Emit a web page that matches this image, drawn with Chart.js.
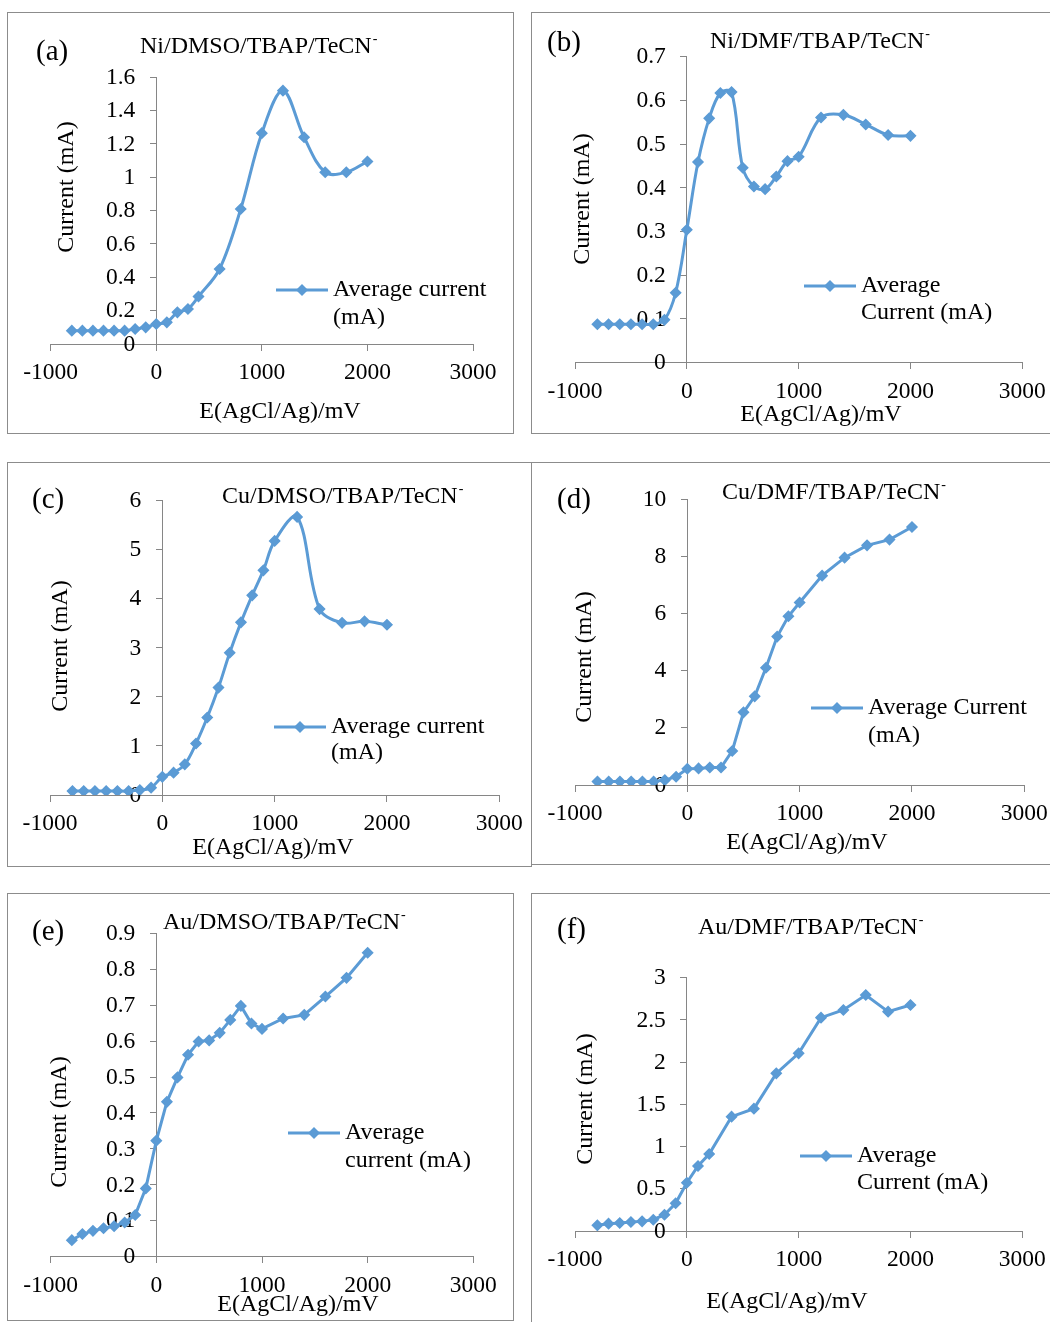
<!DOCTYPE html>
<html>
<head>
<meta charset="utf-8">
<title>Average current vs potential</title>
<script src="https://cdn.jsdelivr.net/npm/chart.js@4.4.1/dist/chart.umd.min.js"></script>
<style>
  html, body { margin: 0; padding: 0; background: #fff; overflow: hidden; }
  body { width: 1050px; height: 1322px; position: relative; }
  canvas { position: absolute; }
  .frame { position: absolute; border: 1px solid #8c8c8c; box-sizing: border-box; pointer-events: none; }
</style>
</head>
<body>
<script>
// Potential steps (mV vs AgCl/Ag)
const potentialsA = [-800, -700, -600, -500, -400, -300, -200, -100, 0, 100, 200, 300, 400, 600, 800, 1000, 1200, 1400, 1600, 1800, 2000];
const potentialsBE = [-800, -700, -600, -500, -400, -300, -200, -100, 0, 100, 200, 300, 400, 500, 600, 700, 800, 900, 1000, 1200, 1400, 1600, 1800, 2000];
const potentialsF = [-800, -700, -600, -500, -400, -300, -200, -100, 0, 100, 200, 400, 600, 800, 1000, 1200, 1400, 1600, 1800, 2000];

// Average current (mA)
const currentNiDmso = [0.08, 0.08, 0.08, 0.08, 0.08, 0.08, 0.09, 0.10, 0.12, 0.13, 0.19, 0.21, 0.285, 0.45, 0.81, 1.265, 1.52, 1.24, 1.03, 1.03, 1.095];
const currentNiDmf = [0.088, 0.088, 0.088, 0.088, 0.088, 0.088, 0.098, 0.16, 0.304, 0.459, 0.559, 0.617, 0.619, 0.446, 0.403, 0.397, 0.426, 0.461, 0.471, 0.561, 0.567, 0.545, 0.521, 0.519];
const currentCuDmso = [0.08, 0.08, 0.08, 0.08, 0.08, 0.08, 0.10, 0.15, 0.37, 0.455, 0.625, 1.05, 1.58, 2.19, 2.90, 3.52, 4.07, 4.58, 5.18, 5.67, 3.79, 3.51, 3.54, 3.47];
const currentCuDmf = [0.12, 0.12, 0.12, 0.12, 0.12, 0.12, 0.17, 0.29, 0.57, 0.58, 0.61, 0.61, 1.19, 2.54, 3.10, 4.10, 5.19, 5.90, 6.38, 7.32, 7.95, 8.38, 8.58, 9.02];
const currentAuDmso = [0.046, 0.063, 0.072, 0.079, 0.085, 0.095, 0.116, 0.190, 0.323, 0.431, 0.499, 0.562, 0.599, 0.602, 0.623, 0.659, 0.698, 0.649, 0.634, 0.663, 0.673, 0.724, 0.776, 0.846];
const currentAuDmf = [0.067, 0.087, 0.095, 0.107, 0.114, 0.134, 0.193, 0.328, 0.572, 0.770, 0.912, 1.354, 1.449, 1.867, 2.104, 2.527, 2.618, 2.795, 2.598, 2.677];

// Axis ticks
const xTicks = [-1000, 0, 1000, 2000, 3000];
const yTicksA = [0, 0.2, 0.4, 0.6, 0.8, 1, 1.2, 1.4, 1.6];
const yTicksB = [0, 0.1, 0.2, 0.3, 0.4, 0.5, 0.6, 0.7];
const yTicksC = [0, 1, 2, 3, 4, 5, 6];
const yTicksD = [0, 2, 4, 6, 8, 10];
const yTicksE = [0, 0.1, 0.2, 0.3, 0.4, 0.5, 0.6, 0.7, 0.8, 0.9];
const yTicksF = [0, 0.5, 1, 1.5, 2, 2.5, 3];

// Legend wording, split over two lines
const legendA = ['Average current', '(mA)'];
const legendB = ['Average', 'Current (mA)'];
const legendC = ['Average current', '(mA)'];
const legendD = ['Average Current', '(mA)'];
const legendE = ['Average', 'current (mA)'];
const legendF = ['Average', 'Current (mA)'];

const xTitle = 'E(AgCl/Ag)/mV';
const yTitle = 'Current (mA)';

const BLUE = '#5b9bd5';
const AXIS = '#868686';
const FONT = '"Liberation Serif", "Times New Roman", serif';
const TEXT_SIZE = 24;
const TICK_SIZE = 23.5;

Chart.defaults.font.family = FONT;
Chart.defaults.font.size = TICK_SIZE;
Chart.defaults.color = '#000';

// box: frame [x, y, w, h]; plot: chart area [left, top, right, bottom]
const panels = [
  { letter: '(a)', title: 'Ni/DMSO/TBAP/TeCN', E: potentialsA, I: currentNiDmso, yTicks: yTicksA, legend: legendA, smooth: true,
    box: [7, 12, 507, 422], plot: [50.7, 77.3, 473, 344],
    letterAt: [36, 52], titleAt: [140, 47], xTitleAt: [280, 412], yTitleAt: [67, 187], legendAt: [276, 290, 28] },
  { letter: '(b)', title: 'Ni/DMF/TBAP/TeCN', E: potentialsBE, I: currentNiDmf, yTicks: yTicksB, legend: legendB, smooth: true,
    box: [531, 12, 530, 422], plot: [575, 56.7, 1022.3, 362.7],
    letterAt: [547, 43], titleAt: [710, 42], xTitleAt: [821, 415], yTitleAt: [583, 199], legendAt: [804, 286, 27] },
  { letter: '(c)', title: 'Cu/DMSO/TBAP/TeCN', E: potentialsBE, I: currentCuDmso, yTicks: yTicksC, legend: legendC, smooth: true,
    box: [7, 462, 525, 405], plot: [50, 500.7, 499.3, 795],
    letterAt: [32, 500], titleAt: [222, 497], xTitleAt: [273, 848], yTitleAt: [61, 646], legendAt: [274, 727, 26] },
  { letter: '(d)', title: 'Cu/DMF/TBAP/TeCN', E: potentialsBE, I: currentCuDmf, yTicks: yTicksD, legend: legendD, smooth: false,
    box: [531, 462, 530, 403], plot: [575, 499, 1024.3, 785],
    letterAt: [557, 500], titleAt: [722, 493], xTitleAt: [807, 843], yTitleAt: [585, 657], legendAt: [811, 708, 28] },
  { letter: '(e)', title: 'Au/DMSO/TBAP/TeCN', E: potentialsBE, I: currentAuDmso, yTicks: yTicksE, legend: legendE, smooth: false,
    box: [7, 893, 507, 428], plot: [50.7, 933.3, 473.3, 1256.7],
    letterAt: [32, 932], titleAt: [163, 923], xTitleAt: [298, 1305], yTitleAt: [60, 1122], legendAt: [288, 1133, 28] },
  { letter: '(f)', title: 'Au/DMF/TBAP/TeCN', E: potentialsF, I: currentAuDmf, yTicks: yTicksF, legend: legendF, smooth: false,
    box: [531, 893, 530, 440], plot: [575, 977.7, 1022.3, 1231],
    letterAt: [557, 930], titleAt: [698, 928], xTitleAt: [787, 1302], yTitleAt: [586, 1099], legendAt: [800, 1156, 27] }
];

function tickLabel(v) {
  return String(Math.round(v * 100) / 100);
}

// Panel letter, title with superscript charge, axis titles and the inline legend
function panelDecor(p) {
  const ox = p.box[0], oy = p.box[1];
  return {
    id: 'panelDecor',
    // y labels sit left of the axis that crosses at E = 0, under the data
    beforeDatasetsDraw(chart) {
      const ctx = chart.ctx;
      const ys = chart.scales.y;
      const axisX = chart.scales.x.getPixelForValue(0);
      ctx.save();
      ctx.fillStyle = '#000';
      ctx.font = TICK_SIZE + 'px ' + FONT;
      ctx.textAlign = 'right';
      ctx.textBaseline = 'middle';
      ys.ticks.forEach(t => {
        ctx.fillText(tickLabel(t.value), axisX - 21, ys.getPixelForValue(t.value) + 0.5);
      });
      ctx.restore();
    },
    afterDraw(chart) {
      const ctx = chart.ctx;
      const ds = chart.data.datasets[0];
      ctx.save();
      ctx.fillStyle = '#000';
      ctx.textBaseline = 'middle';

      ctx.font = '29px ' + FONT;
      ctx.textAlign = 'left';
      ctx.fillText(p.letter, p.letterAt[0] - ox, p.letterAt[1] - oy);

      ctx.font = TEXT_SIZE + 'px ' + FONT;
      const tx = p.titleAt[0] - ox, ty = p.titleAt[1] - oy;
      ctx.fillText(p.title, tx, ty);
      const tw = ctx.measureText(p.title).width;
      ctx.font = '14px ' + FONT;
      ctx.fillText('-', tx + tw + 1, ty - 8);

      ctx.font = TEXT_SIZE + 'px ' + FONT;
      ctx.textAlign = 'center';
      ctx.fillText(xTitle, p.xTitleAt[0] - ox, p.xTitleAt[1] - oy);

      ctx.save();
      ctx.translate(p.yTitleAt[0] - ox, p.yTitleAt[1] - oy);
      ctx.rotate(-Math.PI / 2);
      ctx.fillText(yTitle, 0, 0);
      ctx.restore();

      // legend: line sample with a diamond marker, then two text lines
      const lx = p.legendAt[0] - ox, ly = p.legendAt[1] - oy, len = 52;
      ctx.strokeStyle = ds.borderColor;
      ctx.lineWidth = ds.borderWidth;
      ctx.beginPath();
      ctx.moveTo(lx, ly);
      ctx.lineTo(lx + len, ly);
      ctx.stroke();
      const cx = lx + len / 2, r = 6;
      ctx.fillStyle = ds.backgroundColor;
      ctx.beginPath();
      ctx.moveTo(cx - r, ly);
      ctx.lineTo(cx, ly - r);
      ctx.lineTo(cx + r, ly);
      ctx.lineTo(cx, ly + r);
      ctx.closePath();
      ctx.fill();

      ctx.fillStyle = '#000';
      ctx.textAlign = 'left';
      ctx.font = TEXT_SIZE + 'px ' + FONT;
      ctx.fillText(p.legend[0], lx + len + 5, ly);
      ctx.fillText(p.legend[1], lx + len + 5, ly + p.legendAt[2]);
      ctx.restore();
    }
  };
}

function buildPanel(p) {
  const [bx, by, bw, bh] = p.box;
  const [pl, pt, pr, pb] = p.plot;

  const canvas = document.createElement('canvas');
  canvas.width = bw;
  canvas.height = bh;
  canvas.style.left = bx + 'px';
  canvas.style.top = by + 'px';
  canvas.style.width = bw + 'px';
  canvas.style.height = bh + 'px';
  document.body.appendChild(canvas);

  const frame = document.createElement('div');
  frame.className = 'frame';
  frame.style.left = bx + 'px';
  frame.style.top = by + 'px';
  frame.style.width = bw + 'px';
  frame.style.height = bh + 'px';
  document.body.appendChild(frame);

  const axisGrid = { display: true, drawOnChartArea: false, drawTicks: true, tickLength: 6, color: AXIS, lineWidth: 1 };
  const axisBorder = { display: true, color: AXIS, width: 1 };

  new Chart(canvas.getContext('2d'), {
    type: 'line',
    data: {
      datasets: [{
        label: p.legend.join(' '),
        data: p.E.map((e, i) => ({ x: e, y: p.I[i] })),
        borderColor: BLUE,
        backgroundColor: BLUE,
        borderWidth: 3,
        pointStyle: 'rectRot',
        pointRadius: 5,
        pointBorderWidth: 1.5,
        tension: p.smooth ? 0.35 : 0,
        fill: false
      }]
    },
    options: {
      responsive: false,
      animation: false,
      events: [],
      layout: { padding: { left: pl - bx, top: pt - by, right: bx + bw - pr, bottom: by + bh - pb } },
      plugins: { legend: { display: false }, tooltip: { enabled: false } },
      scales: {
        x: {
          type: 'linear',
          min: xTicks[0],
          max: xTicks[xTicks.length - 1],
          position: { y: 0 },
          afterBuildTicks: s => { s.ticks = xTicks.map(v => ({ value: v })); },
          grid: axisGrid,
          border: axisBorder,
          ticks: { padding: 9, maxRotation: 0, autoSkip: false, callback: tickLabel }
        },
        y: {
          type: 'linear',
          min: p.yTicks[0],
          max: p.yTicks[p.yTicks.length - 1],
          position: { x: 0 },
          afterBuildTicks: s => { s.ticks = p.yTicks.map(v => ({ value: v })); },
          grid: axisGrid,
          border: axisBorder,
          ticks: { display: false }
        }
      }
    },
    plugins: [panelDecor(p)]
  });
}

panels.forEach(buildPanel);
</script>
</body>
</html>
